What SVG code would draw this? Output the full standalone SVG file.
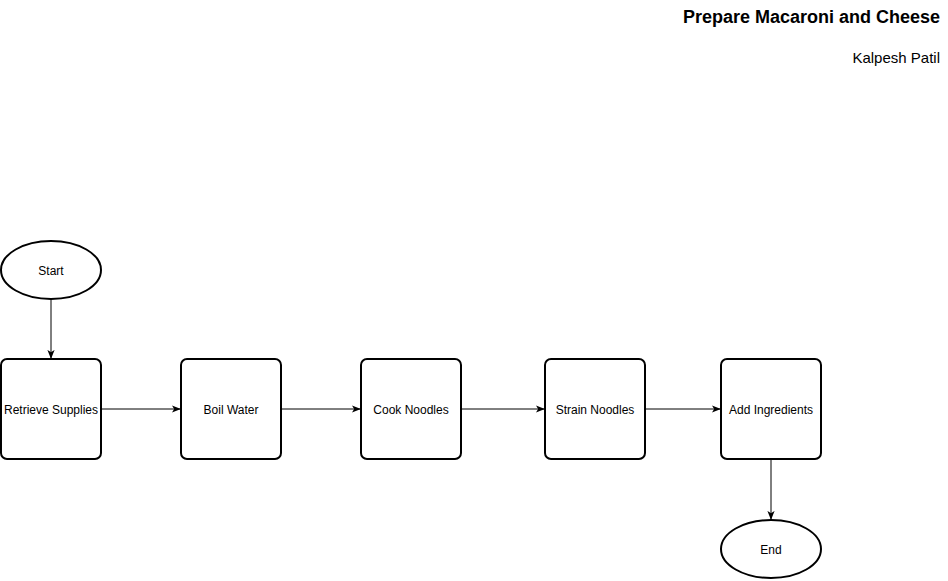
<svg xmlns="http://www.w3.org/2000/svg" width="948" height="581" viewBox="0 0 948 581">
<style>
.node{fill:#fff;stroke:#000;stroke-width:2}
.lbl{font-family:"Liberation Sans",Arial,sans-serif;font-size:12px;fill:#000;text-anchor:middle;dominant-baseline:central}
.edge{fill:none;stroke:#000;stroke-width:1}
</style>
<defs>
<marker id="arr" viewBox="0 0 10 10" refX="9" refY="5" markerWidth="9" markerHeight="9" markerUnits="userSpaceOnUse" orient="auto">
<path d="M0,1 L10,5 L0,9 L2.5,5 Z" fill="#000"/>
</marker>
</defs>
<rect width="948" height="581" fill="#fff"/>
<g id="title">
<text x="940" y="23" font-family="'Liberation Sans',Arial,sans-serif" font-size="18" font-weight="bold" text-anchor="end">Prepare Macaroni and Cheese</text>
<text x="940" y="63" font-family="'Liberation Sans',Arial,sans-serif" font-size="15" text-anchor="end">Kalpesh Patil</text>
</g>
<g id="connectors">
<path class="edge" d="M51,299 L51,358" marker-end="url(#arr)"/>
<path class="edge" d="M101,409 L180,409" marker-end="url(#arr)"/>
<path class="edge" d="M281,409 L360,409" marker-end="url(#arr)"/>
<path class="edge" d="M461,409 L544,409" marker-end="url(#arr)"/>
<path class="edge" d="M645,409 L720,409" marker-end="url(#arr)"/>
<path class="edge" d="M771,459 L771,519" marker-end="url(#arr)"/>
</g>
<g id="start"><ellipse class="node" cx="51" cy="270" rx="50" ry="29"/><text class="lbl" x="51" y="271">Start</text></g>
<g id="retrieve"><rect class="node" x="1" y="359" width="100" height="100" rx="6"/><text class="lbl" x="51" y="410">Retrieve Supplies</text></g>
<g id="boil"><rect class="node" x="181" y="359" width="100" height="100" rx="6"/><text class="lbl" x="231" y="410">Boil Water</text></g>
<g id="cook"><rect class="node" x="361" y="359" width="100" height="100" rx="6"/><text class="lbl" x="411" y="410">Cook Noodles</text></g>
<g id="strain"><rect class="node" x="545" y="359" width="100" height="100" rx="6"/><text class="lbl" x="595" y="410">Strain Noodles</text></g>
<g id="add"><rect class="node" x="721" y="359" width="100" height="100" rx="6"/><text class="lbl" x="771" y="410">Add Ingredients</text></g>
<g id="end"><ellipse class="node" cx="771" cy="549" rx="50" ry="29"/><text class="lbl" x="771" y="550">End</text></g>
</svg>
